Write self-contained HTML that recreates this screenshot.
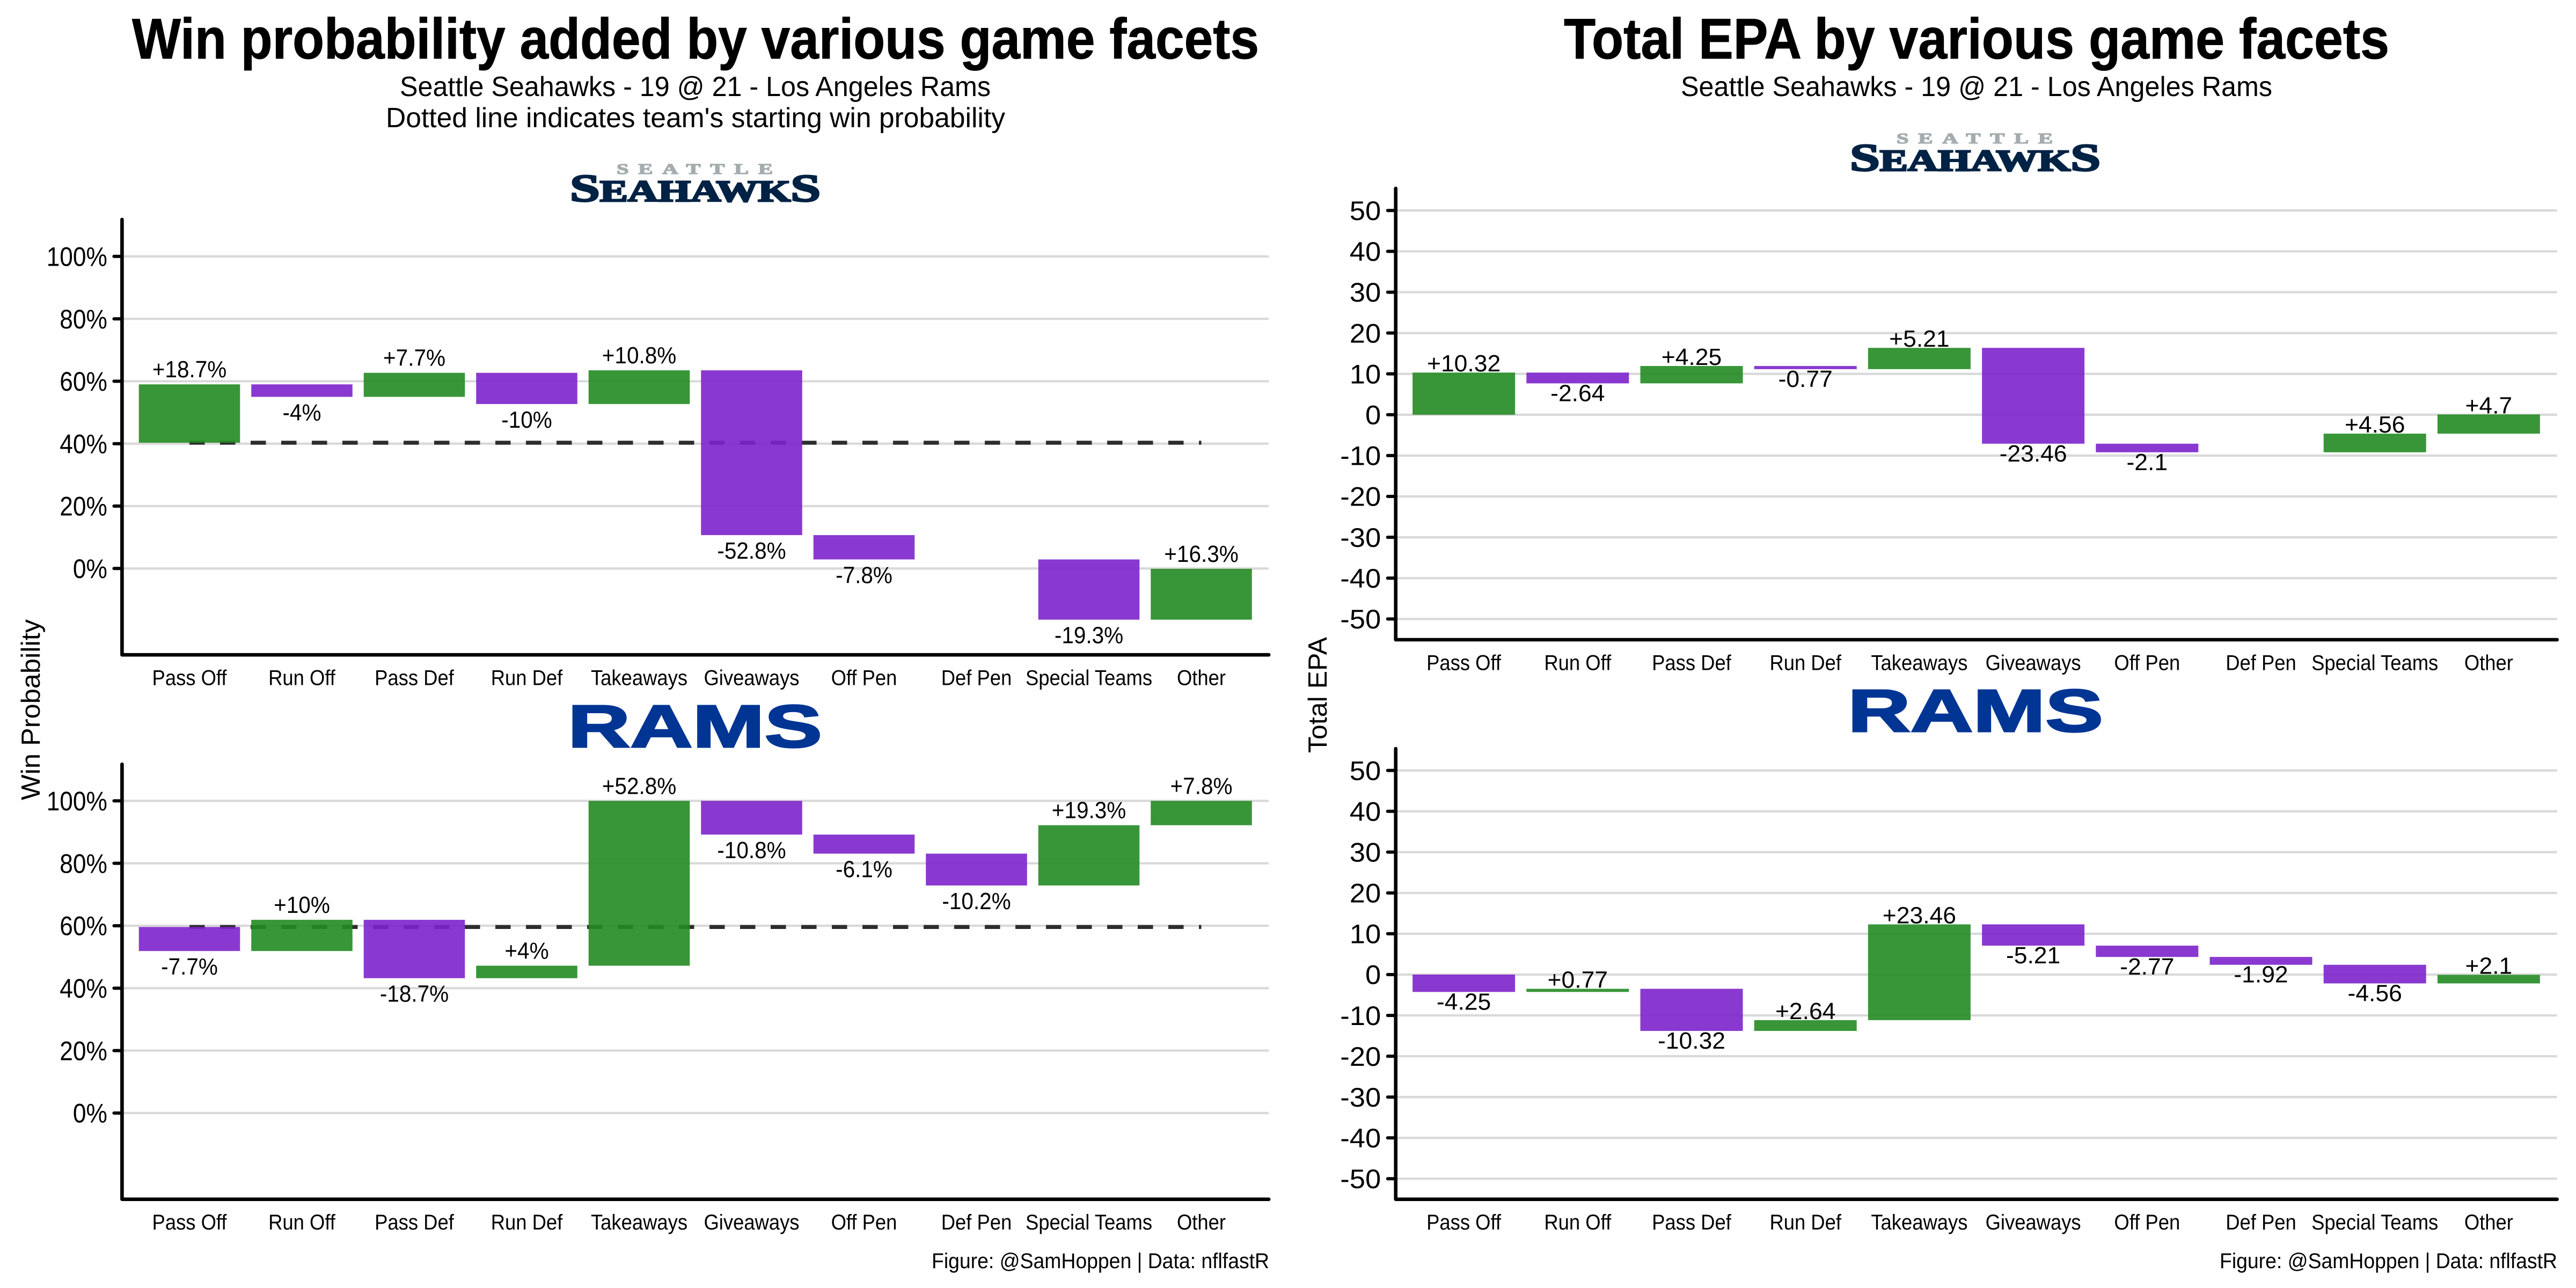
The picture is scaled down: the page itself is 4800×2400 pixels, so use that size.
<!DOCTYPE html>
<html lang="en">
<head>
<meta charset="utf-8">
<title>Win probability and EPA by game facets</title>
<style>
html,body{margin:0;padding:0;background:#fff;width:4800px;height:2400px;overflow:hidden}
svg{display:block}
text{font-family:"Liberation Sans",sans-serif;fill:#000}
</style>
</head>
<body>
<svg id="figure" xmlns="http://www.w3.org/2000/svg" width="4800" height="2400" viewBox="0 0 4800 2400">
  <rect x="0" y="0" width="4800" height="2400" fill="#fff"/>
  <text x="246" y="109" font-size="106.5" font-weight="700" textLength="2100" lengthAdjust="spacingAndGlyphs" style="stroke:#000;stroke-width:1">Win probability added by various game facets</text>
  <text x="745" y="179" font-size="52" textLength="1101" lengthAdjust="spacingAndGlyphs">Seattle Seahawks - 19 @ 21 - Los Angeles Rams</text>
  <text x="719" y="237" font-size="52" textLength="1154" lengthAdjust="spacingAndGlyphs">Dotted line indicates team's starting win probability</text>
  <text x="2914" y="109" font-size="106.5" font-weight="700" textLength="1538" lengthAdjust="spacingAndGlyphs" style="stroke:#000;stroke-width:1">Total EPA by various game facets</text>
  <text x="3132" y="179" font-size="52" textLength="1102" lengthAdjust="spacingAndGlyphs">Seattle Seahawks - 19 @ 21 - Los Angeles Rams</text>
  <text transform="translate(74,1491) rotate(-90)" font-size="49" textLength="337" lengthAdjust="spacingAndGlyphs">Win Probability</text>
  <text transform="translate(2472,1403) rotate(-90)" font-size="49" textLength="216" lengthAdjust="spacingAndGlyphs">Total EPA</text>
  <text x="1736" y="2363" font-size="40" textLength="629" lengthAdjust="spacingAndGlyphs">Figure: @SamHoppen | Data: nflfastR</text>
  <text x="4136" y="2363" font-size="40" textLength="629" lengthAdjust="spacingAndGlyphs">Figure: @SamHoppen | Data: nflfastR</text>

  <g>
    <text transform="translate(1149,324) scale(1.5,1)" x="0" y="0" font-size="27" font-weight="700" textLength="194" lengthAdjust="spacing" style="font-family:'Liberation Serif',serif;fill:#a5acaf;stroke:#a5acaf;stroke-width:1.4">SEATTLE</text>
    <text x="1062" y="375" font-size="56" font-weight="700" textLength="467" lengthAdjust="spacingAndGlyphs" style="font-family:'Liberation Serif',serif;fill:#002244;stroke:#002244;stroke-width:3"><tspan font-size="72">S</tspan>EAHAWK<tspan font-size="72">S</tspan></text>
  </g>
  <g>
    <text transform="translate(3534,267) scale(1.5,1)" x="0" y="0" font-size="27" font-weight="700" textLength="194" lengthAdjust="spacing" style="font-family:'Liberation Serif',serif;fill:#a5acaf;stroke:#a5acaf;stroke-width:1.4">SEATTLE</text>
    <text x="3447" y="318" font-size="56" font-weight="700" textLength="467" lengthAdjust="spacingAndGlyphs" style="font-family:'Liberation Serif',serif;fill:#002244;stroke:#002244;stroke-width:3"><tspan font-size="72">S</tspan>EAHAWK<tspan font-size="72">S</tspan></text>
  </g>
  <text x="1058" y="1392" font-size="112" font-weight="700" textLength="474" lengthAdjust="spacingAndGlyphs" style="fill:#003594;stroke:#003594;stroke-width:3">RAMS</text>
  <text x="3443" y="1363" font-size="112" font-weight="700" textLength="476" lengthAdjust="spacingAndGlyphs" style="fill:#003594;stroke:#003594;stroke-width:3">RAMS</text>

  <g id="charts"></g>
</svg>

<script>
const categories = ["Pass Off", "Run Off", "Pass Def", "Run Def", "Takeaways", "Giveaways", "Off Pen", "Def Pen", "Special Teams", "Other"];

const wpTickValues = [0, 20, 40, 60, 80, 100];
const wpTickLabels = ["0%", "20%", "40%", "60%", "80%", "100%"];
const epaTickValues = [-50, -40, -30, -20, -10, 0, 10, 20, 30, 40, 50];
const epaTickLabels = ["-50", "-40", "-30", "-20", "-10", "0", "10", "20", "30", "40", "50"];

const seahawksWpStart = 40.3;
const ramsWpStart = 59.6;
const seahawksWpDeltas = [18.7, -4, 7.7, -10, 10.8, -52.8, -7.8, 0, -19.3, 16.3];
const ramsWpDeltas = [-7.7, 10, -18.7, 4, 52.8, -10.8, -6.1, -10.2, 19.3, 7.8];
const seahawksEpaDeltas = [10.32, -2.64, 4.25, -0.77, 5.21, -23.46, -2.1, 0, 4.56, 4.7];
const ramsEpaDeltas = [-4.25, 0.77, -10.32, 2.64, 23.46, -5.21, -2.77, -1.92, -4.56, 2.1];

const SVGNS = "http://www.w3.org/2000/svg";
const chartsRoot = document.getElementById("charts");
const GREEN = "#228b22";
const PURPLE = "#7c23cb";

function make(tag, attrs, parent) {
  const el = document.createElementNS(SVGNS, tag);
  for (const k in attrs) el.setAttribute(k, attrs[k]);
  parent.appendChild(el);
  return el;
}

function fitText(el, k) {
  const w = el.getComputedTextLength() * k;
  el.setAttribute("textLength", w.toFixed(1));
  el.setAttribute("lengthAdjust", "spacingAndGlyphs");
}

function drawPanel(p) {
  const g = make("g", {}, chartsRoot);
  
  

  const xScale = i => p.x0 + p.pitch * i;
  const yScale = v => p.yZero - p.unit * v;
  const right = xScale(categories.length - 1) + p.pitch * 0.6;

  p.tickValues.forEach((v, i) => {
    const y = yScale(v);
    const grid = make("line", {x1: p.axisX, x2: right, y1: y, y2: y, stroke: "#d9d9d9", "stroke-width": 4.3}, g);
    
    
    const tick = make("line", {x1: p.axisX - 15, x2: p.axisX, y1: y, y2: y, stroke: "#000", "stroke-width": 6, "stroke-linecap": "round"}, g);
    
    
    const lab = make("text", {x: p.axisX - 27.5, y: y + 17.7, "font-size": 50, "text-anchor": "end"}, g);
    
    
    lab.textContent = p.tickLabels[i];
    fitText(lab, p.tickK);
  });

  if (p.start !== undefined) {
    const ys = yScale(p.start);
    const dash = make("line", {x1: xScale(0), x2: xScale(categories.length - 1), y1: ys, y2: ys, stroke: "#2d2d2d", "stroke-width": 7.3, "stroke-dasharray": "28.5 28.5"}, g);
    
    
  }

  let cum = p.start === undefined ? 0 : p.start;
  p.deltas.forEach((d, i) => {
    const from = cum;
    const to = cum + d;
    cum = to;
    if (d === 0) return;
    const top = yScale(Math.max(from, to));
    const bottom = yScale(Math.min(from, to));
    const bw = p.pitch * 0.9;
    const bar = make("rect", {x: xScale(i) - bw / 2, y: top, width: bw, height: bottom - top, fill: d > 0 ? GREEN : PURPLE, "fill-opacity": 0.9}, g);
    
    
  });

  cum = p.start === undefined ? 0 : p.start;
  p.deltas.forEach((d, i) => {
    const from = cum;
    const to = cum + d;
    cum = to;
    if (d === 0) return;
    const ly = d > 0 ? yScale(Math.max(from, to)) - p.labelUp : yScale(Math.min(from, to)) + p.labelDown;
    const lab = make("text", {x: xScale(i), y: ly, "font-size": 44, "text-anchor": "middle"}, g);
    
    
    lab.textContent = (d > 0 ? "+" : "") + d + p.suffix;
    fitText(lab, p.valueK);
  });

  const axis = make("polyline", {points: p.axisX + "," + p.top + " " + p.axisX + "," + p.bottom + " " + right + "," + p.bottom, fill: "none", stroke: "#000", "stroke-width": 6.6, "stroke-linecap": "round", "stroke-linejoin": "round"}, g);
  
  

  categories.forEach((c, i) => {
    const lab = make("text", {x: xScale(i), y: p.bottom + 56.5, "font-size": 40, "text-anchor": "middle"}, g);
    
    
    lab.textContent = c;
    fitText(lab, 0.91);
  });
}

drawPanel({name: "seahawks-wp", deltas: seahawksWpDeltas, start: seahawksWpStart, tickValues: wpTickValues, tickLabels: wpTickLabels,
  x0: 353, pitch: 209.5, axisX: 227.4, yZero: 1059.3, unit: 5.815, top: 409, bottom: 1220.2, suffix: "%", labelUp: 13, labelDown: 44, tickK: 0.885, valueK: 0.92});
drawPanel({name: "rams-wp", deltas: ramsWpDeltas, start: ramsWpStart, tickValues: wpTickValues, tickLabels: wpTickLabels,
  x0: 353, pitch: 209.5, axisX: 227.4, yZero: 2074, unit: 5.817, top: 1424, bottom: 2234.7, suffix: "%", labelUp: 13, labelDown: 44, tickK: 0.885, valueK: 0.92});
drawPanel({name: "seahawks-epa", deltas: seahawksEpaDeltas, tickValues: epaTickValues, tickLabels: epaTickLabels,
  x0: 2727.6, pitch: 212.2, axisX: 2600.7, yZero: 772.8, unit: 7.612, top: 351, bottom: 1192, suffix: "", labelUp: 2, labelDown: 33, tickK: 1.05, valueK: 1.01});
drawPanel({name: "rams-epa", deltas: ramsEpaDeltas, tickValues: epaTickValues, tickLabels: epaTickLabels,
  x0: 2727.6, pitch: 212.2, axisX: 2600.7, yZero: 1816, unit: 7.607, top: 1395, bottom: 2234.7, suffix: "", labelUp: 2, labelDown: 33, tickK: 1.05, valueK: 1.01});
</script>
</body>
</html>
